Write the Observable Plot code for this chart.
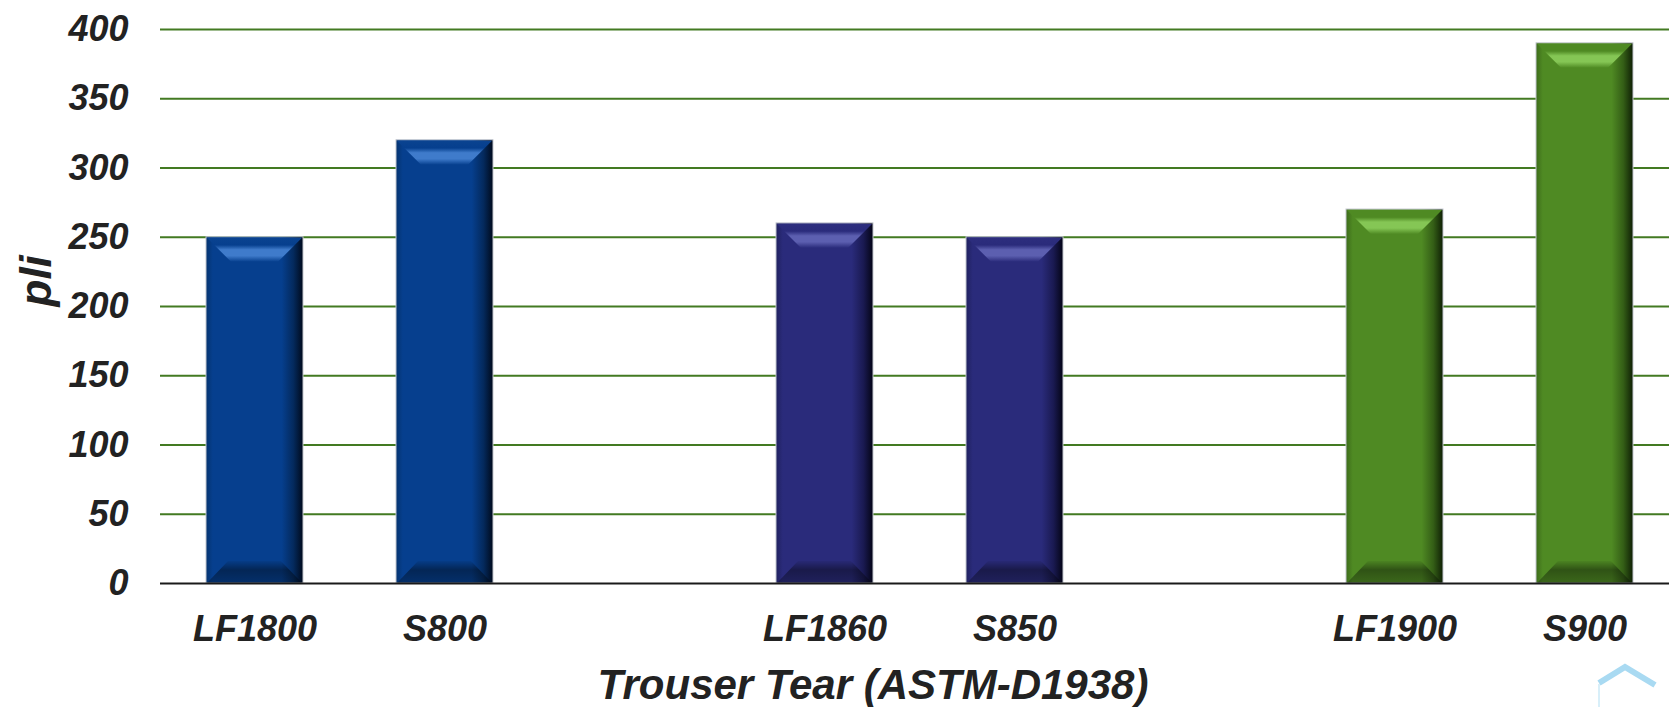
<!DOCTYPE html>
<html><head><meta charset="utf-8">
<script src="https://cdn.jsdelivr.net/npm/d3@7"></script>
<script src="https://cdn.jsdelivr.net/npm/@observablehq/plot@0.6"></script>
<style>
html,body{margin:0;padding:0;background:#fff;overflow:hidden;}
#chart{position:relative;width:1669px;height:707px;}
#logo{position:absolute;left:1592px;top:660px;}
</style></head><body>
<div id="chart"></div>
<script>
// ---- data ----
const categories = ["LF1800", "S800", "LF1860", "S850", "LF1900", "S900"];
const values = [250, 320, 260, 250, 270, 390];
const groups = ["blue", "blue", "navy", "navy", "green", "green"];
const slots = ["LF1800", "S800", "gap1", "LF1860", "S850", "gap2", "LF1900", "S900"];
const yTicks = [0, 50, 100, 150, 200, 250, 300, 350, 400];
const xTitle = "Trouser Tear (ASTM-D1938)";
const yTitle = "pli";

const palette = {
  blue:  {edge: "#05336f", base: "#063f8e", dark1: "#042a5e", dark2: "#000a1c", light: "#3f7bcb", topDark: "#0a4390"},
  navy:  {edge: "#20215f", base: "#2a2b7b", dark1: "#1a1a52", dark2: "#040415", light: "#5c5fb0", topDark: "#2d2e7e"},
  green: {edge: "#3d6b1b", base: "#4f8a23", dark1: "#345e16", dark2: "#0f1f05", light: "#85c655", topDark: "#4f8a23"}
};

const data = categories.map((c, i) => ({category: c, value: values[i], group: groups[i]}));

const plot = Plot.plot({
  width: 1669, height: 707,
  marginLeft: 160, marginRight: 0, marginTop: 29, marginBottom: 124,
  style: {fontFamily: "'Liberation Sans', Arial, sans-serif", fontWeight: "bold", fontStyle: "italic", color: "#222", background: "#fff", overflow: "visible"},
  x: {type: "band", domain: slots, range: [158, 1680], paddingInner: 0.49, paddingOuter: 0.245},
  y: {domain: [0, 400]},
  color: {type: "identity"},
  marks: [
    Plot.gridY({ticks: yTicks.filter(d => d > 0), stroke: "#437a22", strokeOpacity: 1, strokeWidth: 2}),
    Plot.barY(data, {x: "category", y: "value", fill: d => `url(#side-${d.group})`, stroke: "#c3c7cf", strokeWidth: 1}),
    Plot.ruleY([0], {stroke: "#1a1a1a", strokeWidth: 2}),
    Plot.axisY({ticks: yTicks, tickSize: 0, tickPadding: 32, fontSize: 36, label: null}),
    Plot.axisX({ticks: categories, tickSize: 0, tickPadding: 32, fontSize: 36, label: null}),
    Plot.text([xTitle], {frameAnchor: "bottom", lineAnchor: "middle", dx: -42, dy: 102, fontSize: 42}),
    Plot.text([yTitle], {frameAnchor: "left", lineAnchor: "middle", rotate: -90, dx: -124, fontSize: 44})
  ]
});

// ---- bevel styling (uses positions computed by Plot) ----
const svg = d3.select(plot);
const defs = svg.insert("defs", ":first-child");
for (const [k, p] of Object.entries(palette)) {
  const s = defs.append("linearGradient").attr("id", `side-${k}`)
    .attr("x1", 0).attr("x2", 1).attr("y1", 0).attr("y2", 0);
  [[0, p.edge], [0.07, p.base], [0.78, p.base], [0.9, p.dark1], [1, p.dark2]]
    .forEach(([o, c]) => s.append("stop").attr("offset", o).attr("stop-color", c));
  const t = defs.append("linearGradient").attr("id", `top-${k}`)
    .attr("x1", 0).attr("x2", 0).attr("y1", 0).attr("y2", 1);
  [[0, p.topDark], [0.3, p.base], [0.5, p.light], [0.75, p.light], [1, p.base]]
    .forEach(([o, c]) => t.append("stop").attr("offset", o).attr("stop-color", c));
}
const bg = defs.append("linearGradient").attr("id", "bottom-shade")
  .attr("x1", 0).attr("x2", 0).attr("y1", 0).attr("y2", 1);
[[0, 0.05], [0.4, 0.4], [1, 0.25]].forEach(([o, a]) =>
  bg.append("stop").attr("offset", o).attr("stop-color", "#000").attr("stop-opacity", a));

svg.selectAll('g[aria-label="bar"] rect').each(function () {
  const r = d3.select(this);
  const x = +r.attr("x"), y = +r.attr("y"), w = +r.attr("width"), h = +r.attr("height");
  const key = (r.attr("fill") || "").replace(/.*side-([a-z]+).*/, "$1");
  const g = d3.select(this.parentNode);
  const b = Math.min(25, h / 2), b2 = Math.min(22, h / 2);
  g.append("polygon")
    .attr("points", [[x + 1, y + 1], [x + w - 1, y + 1], [x + w - b, y + b], [x + b, y + b]].join(" "))
    .attr("fill", `url(#top-${key})`).attr("stroke", "none");
  g.append("polygon")
    .attr("points", [[x + 1, y + h], [x + w - 1, y + h], [x + w - b2, y + h - b2], [x + b2, y + h - b2]].join(" "))
    .attr("fill", "url(#bottom-shade)").attr("stroke", "none");
});

document.getElementById("chart").appendChild(plot);
</script>
<svg id="logo" width="72" height="50" viewBox="0 0 72 50">
  <polyline points="7,23 33,7 63,25" fill="none" stroke="#a9daf2" stroke-width="6"/>
  <line x1="7" y1="24" x2="7" y2="50" stroke="#d8eff9" stroke-width="2"/>
</svg>
</body></html>
